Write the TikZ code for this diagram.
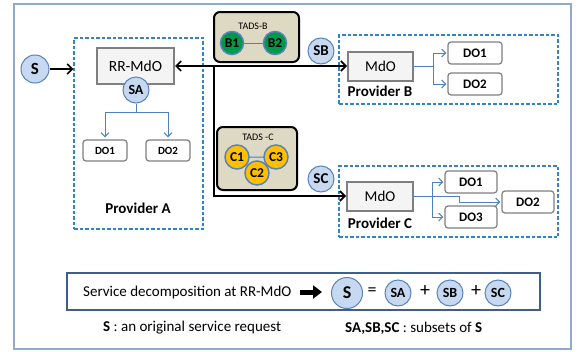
\documentclass[tikz,border=0pt]{standalone}
\usepackage{fontspec}
\setmainfont{Carlito}
\usetikzlibrary{arrows.meta}
\definecolor{frameblue}{HTML}{8EAACC}
\definecolor{dashblue}{HTML}{2E86C8}
\definecolor{circfill}{HTML}{C6D9F1}
\definecolor{circdraw}{HTML}{5B82B8}
\definecolor{treeblue}{HTML}{4F81BD}
\definecolor{dogray}{HTML}{7F7F7F}
\definecolor{mdofill}{HTML}{F4F4F4}
\definecolor{tadsfill}{HTML}{DDD9C3}
\definecolor{bgreen}{HTML}{00984A}
\definecolor{cgold}{HTML}{FFC000}
\definecolor{sumblue}{HTML}{3F5F8A}
\newcommand{\fs}[1]{\fontsize{#1}{#1}\selectfont}
\begin{document}
\begin{tikzpicture}[x=1pt,y=-1pt,
  provbox/.style={draw=dashblue, dash pattern=on 3.5pt off 2pt, line width=1.3pt, rectangle, inner sep=0pt},
  svc/.style={circle, draw=circdraw, fill=circfill, line width=1pt, inner sep=0pt, minimum size=#1},
  dobox/.style={draw=dogray, fill=white, rounded corners=3pt, line width=1.2pt, inner sep=0pt, font=\bfseries\fs{#1}},
  mdobox/.style={draw=dogray, fill=mdofill, line width=2pt, inner sep=0pt, font=\fs{15}},
  tads/.style={draw=black, fill=tadsfill, rounded corners=6pt, line width=2pt, inner sep=0pt},
  bnode/.style={circle, draw=circdraw, fill=bgreen, line width=1.5pt, inner sep=0pt, minimum size=23pt, font=\bfseries\fs{13.5}},
  cnode/.style={circle, draw=circdraw, fill=cgold, line width=1.5pt, inner sep=0pt, minimum size=24pt, font=\bfseries\fs{13.5}},
  blk/.style={line width=1.6pt, draw=black},
  btip/.tip={Straight Barb[length=5pt,width=10pt]},
  tree/.style={draw=treeblue, line width=1pt},
  ttip/.tip={Straight Barb[length=4pt,width=8pt]},
  plabel/.style={font=\bfseries\fs{15}, inner sep=0pt}
]
\useasboundingbox (0,0) rectangle (578,351);
\draw[frameblue, line width=1.2pt] (14,4) rectangle (571,349);

% Provider A
\node[provbox, minimum width=129pt, minimum height=191pt] (provA) at (138.5,133.5) {};
\node[svc=28pt, font=\bfseries\fs{17}] (S) at (35,69) {S};
\draw[blk, -btip] (S.east) -- (S.east -| provA.west);
\node[mdobox, minimum width=77pt, minimum height=36pt, font=\fs{15.5}] (rr) at (135.5,66) {RR-MdO};
\node[svc=26pt, font=\bfseries\fs{14}] (SA) at (136,90) {SA};
\node[dobox=11, minimum width=44pt, minimum height=21pt] (doA1) at (105,150.5) {DO1};
\node[dobox=11, minimum width=44pt, minimum height=21pt] (doA2) at (168,150.5) {DO2};
\draw[tree] (SA.south) -- ++(0,9) coordinate (ta);
\draw[tree, -ttip, shorten >=2pt] (ta) -| (doA1.north);
\draw[tree, -ttip, shorten >=2pt] (ta) -| (doA2.north);
\node[plabel] (pA) at (138,208) {Provider A};

% TADS-B
\node[tads, minimum width=85pt, minimum height=50pt] (tadsB) at (256.5,37) {};
\node[font=\fs{10}, inner sep=0pt] (tBl) at (253,26) {TADS-B};
\node[bnode] (B1) at (232,43) {B1};
\node[bnode] (B2) at (275,43) {B2};
\draw[tree] (B1) -- (B2);

% TADS-C
\node[tads, minimum width=80pt, minimum height=63pt] (tadsC) at (257,158.5) {};
\node[font=\fs{10}, inner sep=0pt] (tCl) at (258,137) {TADS -C};
\draw[tree] (237,157) -- (276,157) -- (257,173) -- cycle;
\node[cnode] (C1) at (237,157) {C1};
\node[cnode] (C3) at (276,157) {C3};
\node[cnode] (C2) at (257,173) {C2};

% Provider B
\node[provbox, minimum width=219pt, minimum height=69pt] (provB) at (448.5,69.5) {};
\node[svc=26pt, font=\bfseries\fs{15}] (SB) at (321,51) {SB};
\node[mdobox, minimum width=65pt, minimum height=29pt] (mdoB) at (380.5,66) {MdO};
\node[plabel] (pB) at (380,91) {Provider B};
\node[dobox=13, minimum width=54pt, minimum height=22pt] (doB1) at (475,53) {DO1};
\node[dobox=13, minimum width=54pt, minimum height=22pt] (doB2) at (475,84) {DO2};
\draw[tree] (mdoB.east) -- ++(19,0) coordinate (fb);
\draw[tree, -ttip, shorten >=1pt] (fb) |- (doB1.west);
\draw[tree, -ttip, shorten >=1pt] (fb) |- (doB2.west);

% Provider C
\node[provbox, minimum width=219pt, minimum height=71pt] (provC) at (448.5,201.5) {};
\node[svc=26pt, font=\bfseries\fs{15}] (SC) at (321,179) {SC};
\node[mdobox, minimum width=66pt, minimum height=29pt] (mdoC) at (380,196) {MdO};
\node[plabel] (pC) at (380,223) {Provider C};
\node[dobox=13, minimum width=52pt, minimum height=22pt] (doC1) at (471,182) {DO1};
\node[dobox=13, minimum width=52pt, minimum height=22pt] (doC3) at (471,217) {DO3};
\node[dobox=13, minimum width=52pt, minimum height=22pt] (doC2) at (528,202) {DO2};
\draw[tree] (mdoC.east) -- ++(18,0) coordinate (fc);
\draw[tree, -ttip, shorten >=1pt] (fc) |- (doC1.west);
\draw[tree, -ttip, shorten >=1pt] (fc) |- (doC3.west);
\draw[tree, -ttip, shorten >=1pt] (fc) -- ++(27,0) |- (doC2.west);

% black connectors
\coordinate (j) at (214,66);
\draw[blk, btip-btip] (rr.east) -- (mdoB.west);
\draw[blk, -btip] (j) |- (mdoC.west);

% summary box
\node[draw=sumblue, line width=2pt, fill=white, minimum width=473pt, minimum height=37pt, inner sep=0pt] (sum) at (303.5,291.5) {};
\node[anchor=west, font=\fs{15}, inner sep=0pt] (stxt) at (83,292) {Service decomposition at RR-MdO};
\coordinate (ba1) at (300,292);
\coordinate (ba2) at (322,292);
\draw[line width=5pt, -{Triangle[length=9pt,width=13pt]}] (ba1) -- (ba2);
\node[svc=31pt, font=\bfseries\fs{18}] (bS) at (347,293) {S};
\node[font=\fs{18}, inner sep=0pt] (eq) at (372,292) {=};
\node[svc=26pt, font=\bfseries\fs{14}] (bSA) at (398,293) {SA};
\node[font=\fs{20}, inner sep=0pt] (p1) at (425,291) {+};
\node[svc=26pt, font=\bfseries\fs{14}] (bSB) at (450,293) {SB};
\node[font=\fs{20}, inner sep=0pt] (p2) at (476,291) {+};
\node[svc=26pt, font=\bfseries\fs{14}] (bSC) at (498,293) {SC};

\node[anchor=west, font=\fs{15}, inner sep=0pt] (cap1) at (103,328) {\textbf{S} : an original service request};
\node[anchor=west, font=\fs{15}, inner sep=0pt] (cap2) at (345,328) {\textbf{SA,SB,SC} : subsets of \textbf{S}};
\end{tikzpicture}
\end{document}
